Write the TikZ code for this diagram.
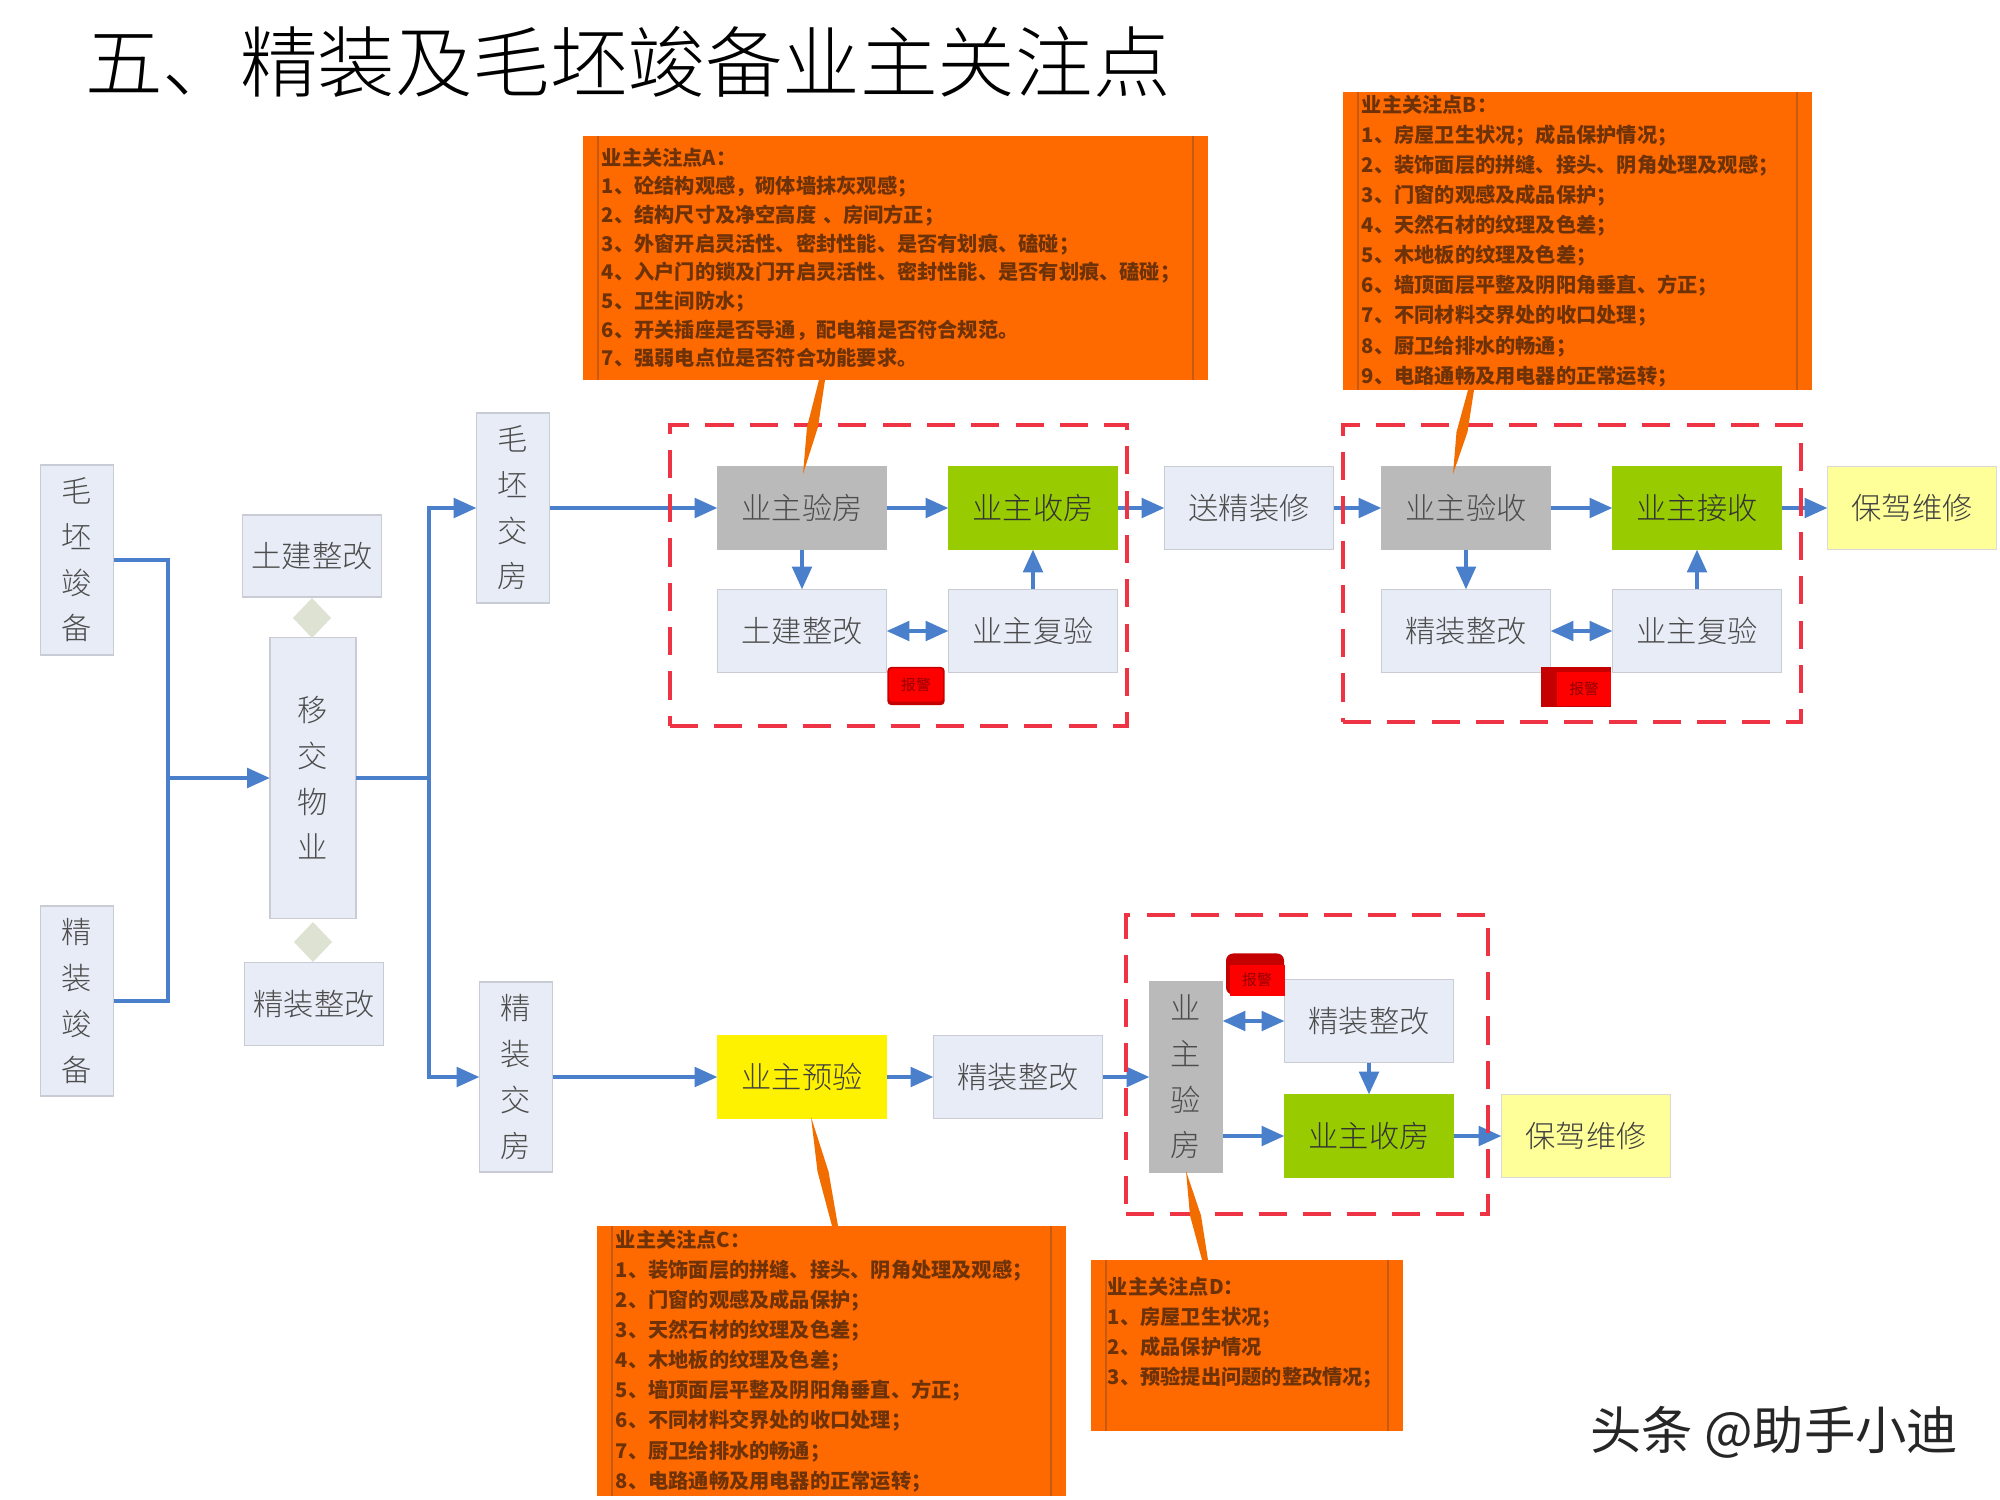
\documentclass[tikz,border=0pt]{standalone}
\usepackage{fontspec}
\setmainfont{Noto Sans CJK SC}
\newfontfamily\lightcjk{Noto Sans CJK SC Light}
\usetikzlibrary{arrows.meta,calc,shapes.geometric}
\definecolor{boxblue}{HTML}{E7ECF6}
\definecolor{boxline}{HTML}{C9CCD4}
\definecolor{flowblue}{HTML}{4A7FCB}
\definecolor{grouped}{HTML}{EE3344}
\definecolor{noteorange}{HTML}{FF6A00}
\definecolor{noteline}{HTML}{C85A10}
\definecolor{notetext}{HTML}{6E3208}
\definecolor{okgreen}{HTML}{99CC00}
\definecolor{paleyellow}{HTML}{FFFF99}
\definecolor{gatecolor}{HTML}{DDE2D2}
\definecolor{tagdark}{HTML}{C40000}
\newcommand{\calloutwedge}[2]{\fill[wedge] ($(#1)+(-.03cm,0)$) -- ($(#1)+(.03cm,0)$) -- ($(#1)!.5!(#2)+(.055cm,0)$) -- (#2) -- ($(#1)!.5!(#2)+(-.055cm,0)$) -- cycle;}

\begin{document}
\begin{tikzpicture}[x=.01cm,y=-.01cm]
        \tikzstyle{every node}=[inner sep=0pt, outer sep=0pt]
        \tikzstyle{plain}=[draw=boxline, fill=boxblue, text=black!70, font=\lightcjk\fontsize{8.6pt}{13pt}\selectfont, align=center, line width=.4pt]
        \tikzstyle{wide}=[plain, minimum width=1.69cm, minimum height=.83cm]
        \tikzstyle{tall}=[plain, minimum width=.73cm, minimum height=1.9cm]
        \tikzstyle{grey}=[fill=black!27, draw=black!27]
        \tikzstyle{okbox}=[fill=okgreen, draw=okgreen, text=black!80]
        \tikzstyle{pale}=[fill=paleyellow, draw=black!15, text=black!75]
        \tikzstyle{link}=[draw=flowblue, line width=1.2pt]
        \tikzstyle{flow}=[link, -{Triangle[length=6.5pt,width=5.5pt]}]
        \tikzstyle{both}=[link, {Triangle[length=6.5pt,width=5.5pt]}-{Triangle[length=6.5pt,width=5.5pt]}]
        \tikzstyle{group}=[draw=grouped, line width=1.1pt, dash pattern=on 8pt off 4.6pt]
        \tikzstyle{note}=[fill=noteorange, text=notetext, font=\fontsize{5.75pt}{8.55pt}\selectfont\bfseries, align=left,
            path picture={\draw[noteline, line width=.5pt] ([xshift=.15cm]path picture bounding box.north west) -- ([xshift=.15cm]path picture bounding box.south west)
            ([xshift=-.15cm]path picture bounding box.north east) -- ([xshift=-.15cm]path picture bounding box.south east);}]
        \tikzstyle{wedge}=[fill=orange!90!red!95!black]
        \tikzstyle{tag}=[fill=tagdark]
        \tikzstyle{tagface}=[fill=red, text=tagdark!75!black, font=\fontsize{4.2pt}{5pt}\selectfont]
        \tikzstyle{gate}=[diamond, fill=gatecolor, minimum width=.38cm, minimum height=.4cm]
        \useasboundingbox (0,0) rectangle (2000,1500);

        % left column
        \node[tall] (maopi) at (77,560) {毛\\坯\\竣\\备};
        \node[tall] (jingzhuang) at (77,1001) {精\\装\\竣\\备};
        \node[plain, minimum width=1.39cm, minimum height=.82cm] (fixcivil) at (312,556) {土建整改};
        \node[plain, minimum width=.86cm, minimum height=2.81cm] (yijiao) at (313,778) {移\\交\\物\\业};
        \node[plain, minimum width=1.39cm, minimum height=.83cm] (fixfinish) at (314,1004) {精装整改};
        \node[gate] (gatetop) at (312,618) {};
        \node[gate] (gatebottom) at (313,942) {};
        \node[tall] (maofang) at (513,508) {毛\\坯\\交\\房};
        \node[tall] (jingfang) at (516,1077) {精\\装\\交\\房};
        \coordinate (busleft) at (168,778);
        \coordinate (busright) at (429,778);

        % top row, first group
        \node[wide, grey] (yanfang) at (802,508) {业主验房};
        \node[wide, okbox] (shoufang) at (1033,508) {业主收房};
        \node[wide] (tujian) at (802,631) {土建整改};
        \node[wide] (fuyan) at (1033,631) {业主复验};
        \node[wide] (songzx) at (1249,508) {送精装修};
        % top row, second group
        \node[wide, grey] (yanshou) at (1466,508) {业主验收};
        \node[wide, okbox] (jieshou) at (1697,508) {业主接收};
        \node[wide] (zhenggai) at (1466,631) {精装整改};
        \node[wide] (fuyanb) at (1697,631) {业主复验};
        \node[wide, pale] (baojia) at (1912,508) {保驾维修};
        % bottom row
        \node[wide, fill=yellow, draw=yellow, text=black!75] (yuyan) at (802,1077) {业主预验};
        \node[wide] (jzzg) at (1018,1077) {精装整改};
        \node[tall, grey] (yanfangc) at (1186,1077) {业\\主\\验\\房};
        \node[wide] (zhenggaic) at (1369,1021) {精装整改};
        \node[wide, okbox] (shoufangc) at (1369,1136) {业主收房};
        \node[wide, pale] (baojiac) at (1586,1136) {保驾维修};

        \draw[link] (maopi.east) -| (busleft);
        \draw[link] (jingzhuang.east) -| (busleft);
        \draw[flow] (busleft) -- (yijiao.west);
        \draw[link] (yijiao.east) -- (busright);
        \draw[flow] (busright) |- (maofang.west);
        \draw[flow] (busright) |- (jingfang.west);

        \draw[flow] (maofang.east) -- (yanfang.west);
        \draw[flow] (yanfang.east) -- (shoufang.west);
        \draw[flow] (yanfang.south) -- (tujian.north);
        \draw[flow] (fuyan.north) -- (shoufang.south);
        \draw[both] (tujian.east) -- (fuyan.west);
        \draw[flow] (shoufang.east) -- (songzx.west);
        \draw[flow] (songzx.east) -- (yanshou.west);
        \draw[flow] (yanshou.east) -- (jieshou.west);
        \draw[flow] (yanshou.south) -- (zhenggai.north);
        \draw[flow] (fuyanb.north) -- (jieshou.south);
        \draw[both] (zhenggai.east) -- (fuyanb.west);
        \draw[flow] (jieshou.east) -- (baojia.west);

        \draw[flow] (jingfang.east) -- (yuyan.west);
        \draw[flow] (yuyan.east) -- (jzzg.west);
        \draw[flow] (jzzg.east) -- (yanfangc.west);
        \draw[both] (yanfangc.east |- zhenggaic.west) -- (zhenggaic.west);
        \draw[flow] (yanfangc.east |- shoufangc.west) -- (shoufangc.west);
        \draw[flow] (zhenggaic.south) -- (shoufangc.north);
        \draw[flow] (shoufangc.east) -- (baojiac.west);

        % dashed groups
        \node[group, minimum width=4.57cm, minimum height=3.01cm] (groupa) at (898.5,575.5) {};
        \node[group, minimum width=4.58cm, minimum height=2.97cm] (groupb) at (1572,573.5) {};
        \node[group, minimum width=3.62cm, minimum height=2.99cm] (groupc) at (1307,1064.5) {};

        % alarm tags
        \node[tag, rounded corners=1pt, minimum width=.57cm, minimum height=.38cm] (taga) at (916,686) {};
        \node[tagface, rounded corners=1pt, minimum width=.54cm, minimum height=.33cm] at (916,685) {报警};
        \node[tag, minimum width=.7cm, minimum height=.39cm] (tagb) at (1576,687) {};
        \node[tagface, minimum width=.54cm, minimum height=.34cm] at (1584,689) {报警};
        \node[tag, rounded corners=2pt, minimum width=.58cm, minimum height=.41cm] (tagc) at (1255,974) {};
        \node[tagface, minimum width=.55cm, minimum height=.31cm] at (1257,980) {报警};

        % notes
        \node[note, font=\fontsize{5.75pt}{8.15pt}\selectfont\bfseries, minimum width=6.25cm, minimum height=2.44cm, text width=5.87cm] (notea) at (895.5,258) {业主关注点A：\\1、砼结构观感，砌体墙抹灰观感；\\2、结构尺寸及净空高度 、房间方正；\\3、外窗开启灵活性、密封性能、是否有划痕、磕碰；\\4、入户门的锁及门开启灵活性、密封性能、是否有划痕、磕碰；\\5、卫生间防水；\\6、开关插座是否导通，配电箱是否符合规范。\\7、强弱电点位是否符合功能要求。};
        \node[note, minimum width=4.69cm, minimum height=2.98cm, text width=4.31cm] (noteb) at (1577.5,241) {业主关注点B：\\1、房屋卫生状况；成品保护情况；\\2、装饰面层的拼缝、接头、阴角处理及观感；\\3、门窗的观感及成品保护；\\4、天然石材的纹理及色差；\\5、木地板的纹理及色差；\\6、墙顶面层平整及阴阳角垂直、方正；\\7、不同材料交界处的收口处理；\\8、厨卫给排水的畅通；\\9、电路通畅及用电器的正常运转；};
        \node[note, minimum width=4.69cm, minimum height=2.7cm, text width=4.31cm] (notec) at (831.5,1361) {业主关注点C：\\1、装饰面层的拼缝、接头、阴角处理及观感；\\2、门窗的观感及成品保护；\\3、天然石材的纹理及色差；\\4、木地板的纹理及色差；\\5、墙顶面层平整及阴阳角垂直、方正；\\6、不同材料交界处的收口处理；\\7、厨卫给排水的畅通；\\8、电路通畅及用电器的正常运转；};
        \node[note, minimum width=3.12cm, minimum height=1.71cm, text width=2.78cm] (noted) at (1247,1345.5) {业主关注点D：\\1、房屋卫生状况；\\2、成品保护情况\\3、预验提出问题的整改情况；\\~};

        \coordinate (enda) at (822,380);
        \coordinate (tipa) at (803,474);
        \coordinate (endb) at (1471,390);
        \coordinate (tipb) at (1453,474);
        \coordinate (endc) at (835,1226);
        \coordinate (tipc) at (811,1117);
        \coordinate (endd) at (1205,1260);
        \coordinate (tipd) at (1186,1171);
        \calloutwedge{enda}{tipa}
        \calloutwedge{endb}{tipb}
        \calloutwedge{endc}{tipc}
        \calloutwedge{endd}{tipd}

        \node[font=\lightcjk\fontsize{22.05pt}{24pt}\selectfont, anchor=west] (title) at (85,62) {五、精装及毛坯竣备业主关注点};
        \node[font=\fontsize{14.6pt}{16pt}\selectfont, anchor=west, text=black!85] (mark) at (1590,1432) {头条 @助手小迪};
    \end{tikzpicture}
\end{document}
